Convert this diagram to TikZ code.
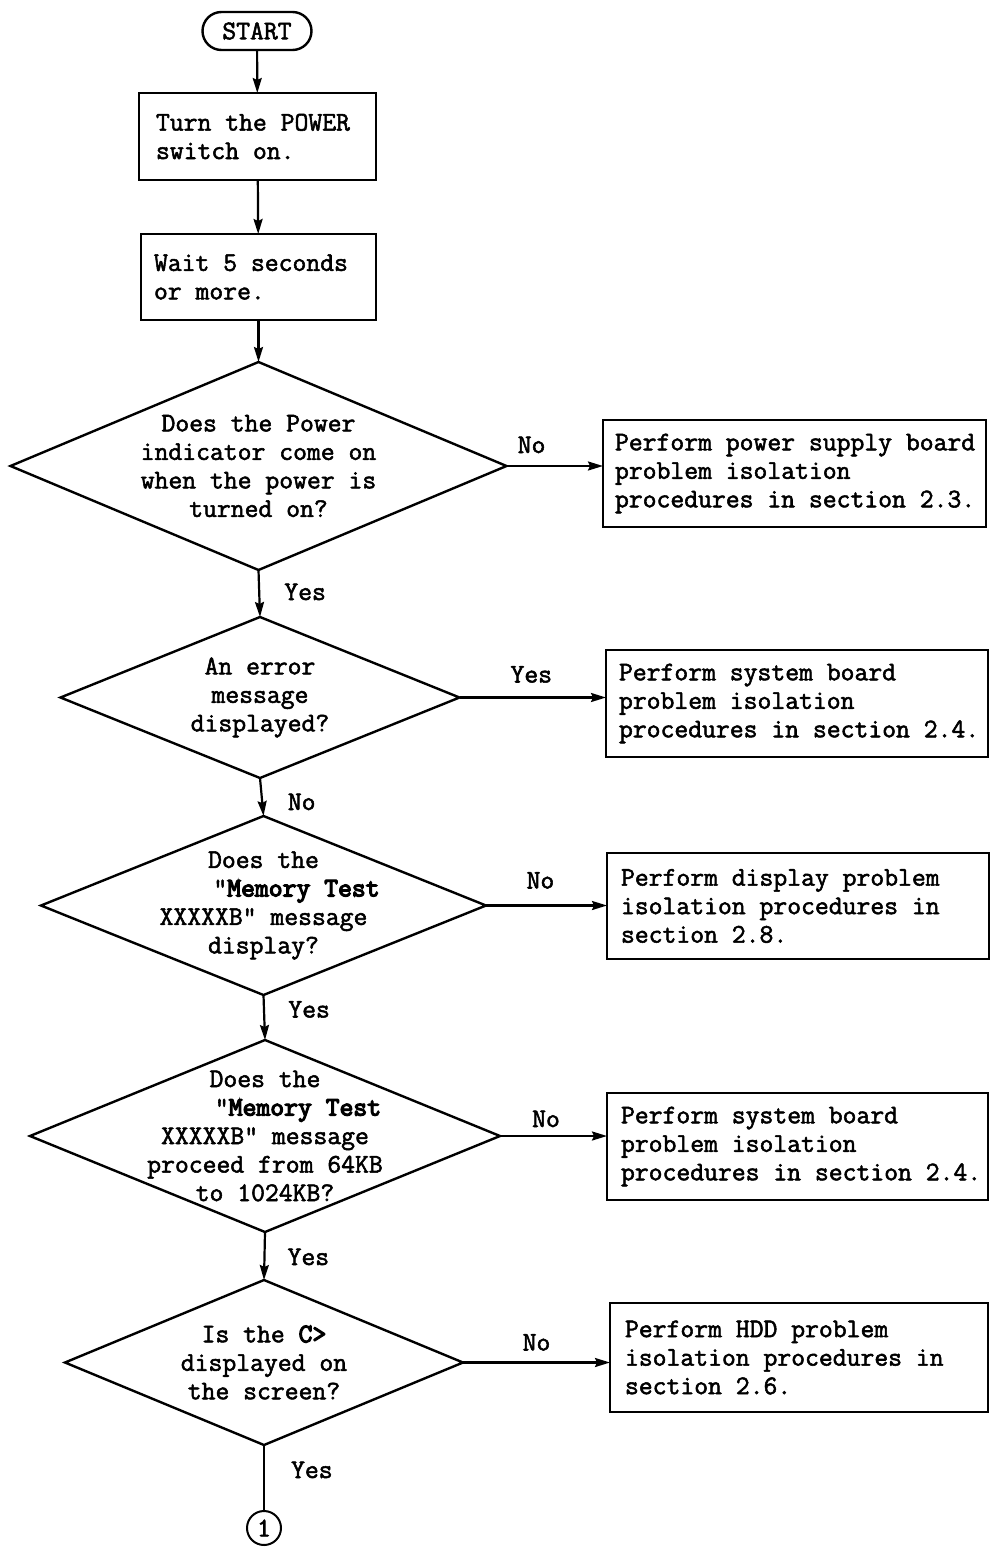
\documentclass[tikz,border=0pt]{standalone}
\usepackage{fontspec}
\setmainfont{Latin Modern Mono}[Ligatures=TeXOff, FakeBold=2]
\newfontfamily\heavymono{Latin Modern Mono}[Ligatures=TeXOff, FakeBold=4.5]
\newcommand\hv[1]{{\heavymono #1}}
\usetikzlibrary{arrows.meta,shapes.geometric}
\newcommand\fixsp{\spaceskip=0pt\xspaceskip=0pt\relax}
\begin{document}
\begin{tikzpicture}[x=1pt,y=-1pt,
  every node/.style={font=\fontsize{26.9}{28.5}\selectfont},
  pbox/.style={draw, line width=2.4pt, align=left, inner sep=0pt, outer sep=0pt},
  dec/.style={draw, shape=diamond, inner sep=0pt, outer sep=0pt, line width=2.4pt},
  conn/.style={line width=2.2pt, -{Stealth[length=15pt,width=9pt,inset=2pt]}},
  plainconn/.style={line width=2.2pt},
  hlab/.style={inner sep=0pt, anchor=base},
  vlab/.style={inner sep=0pt, anchor=base west}]
\useasboundingbox (0,0) rectangle (992,1549);

% start
\node[draw, line width=2.4pt, rounded corners=19pt, minimum width=109pt, minimum height=38pt, inner sep=0pt, outer sep=0pt] (start) at (257,31) {START};

% process boxes
\node[pbox, minimum width=237pt, minimum height=87pt, text width=203pt] (b1) at (257.5,136.5) {\fixsp Turn the POWER\\switch on.};
\node[pbox, minimum width=235pt, minimum height=86pt, text width=209pt] (b2) at (258.5,277) {\fixsp Wait 5 seconds\\or more.};

% decisions
\node[dec, minimum width=496pt, minimum height=208pt, label={[align=center, inner sep=0pt]center:{Does the Power\\indicator come on\\when the power is\\turned on?}}] (d1) at (258.5,466) {};
\node[dec, minimum width=399pt, minimum height=161pt, label={[align=center, inner sep=0pt]center:{An error\\message\\displayed?}}] (d2) at (260,697.5) {};
\node[dec, minimum width=445pt, minimum height=179pt, label={[align=center, inner sep=0pt]center:{Does the\\\hspace*{66pt}"\hv{Memory Test}\\XXXXXB" message\\display?}}] (d3) at (263.5,905.5) {};
\node[dec, minimum width=470pt, minimum height=192pt, label={[align=center, inner sep=0pt]center:{Does the\\\hspace*{66pt}"\hv{Memory Test}\\XXXXXB" message\\proceed from 64KB\\to 1024KB?}}] (d4) at (265,1136) {};
\node[dec, minimum width=398pt, minimum height=165pt, label={[align=center, inner sep=0pt]center:{Is the \hv{C>}\\displayed on\\the screen?}}] (d5) at (264,1362.5) {};

% right-hand boxes
\node[pbox, minimum width=383pt, minimum height=107pt, text width=359pt] (b3) at (794.5,473.5) {\fixsp\mbox{Perform power supply board}\\problem isolation\\\mbox{procedures in section 2.3.}};
\node[pbox, minimum width=382pt, minimum height=107pt, text width=356pt] (b4) at (797,703.5) {\fixsp Perform system board\\problem isolation\\\mbox{procedures in section 2.4.}};
\node[pbox, minimum width=382pt, minimum height=106pt, text width=354pt] (b5) at (798,906) {\fixsp Perform display problem\\isolation procedures in\\section 2.8.};
\node[pbox, minimum width=381pt, minimum height=107pt, text width=353pt] (b6) at (797.5,1146.5) {\fixsp Perform system board\\problem isolation\\\mbox{procedures in section 2.4.}};
\node[pbox, minimum width=378pt, minimum height=109pt, text width=348pt] (b7) at (799,1357.5) {\fixsp Perform HDD problem\\isolation procedures in\\section 2.6.};

% connector circle
\node[draw, circle, line width=2pt, minimum size=34pt, inner sep=0pt, outer sep=0pt] (c1) at (264,1528) {1};

% vertical flow
\draw[conn] (start) -- (b1);
\draw[conn] (b1) -- (b2);
\draw[conn] (b2) -- (d1.north);
\draw[conn] (d1.south) -- node[vlab, xshift=24pt, yshift=-6.5pt] {Yes} (d2.north);
\draw[conn] (d2.south) -- node[vlab, xshift=25pt, yshift=-13pt] {No} (d3.north);
\draw[conn] (d3.south) -- node[vlab, xshift=23pt, yshift=0pt] {Yes} (d4.north);
\draw[conn] (d4.south) -- node[vlab, xshift=22pt, yshift=-9pt] {Yes} (d5.north);
\draw[plainconn] (d5.south) -- node[vlab, xshift=26pt, yshift=0pt] {Yes} (c1.north);

% horizontal flow
\draw[conn] (d1.east) -- node[hlab, pos=0.26, yshift=13pt] {No} (d1.east -| b3.west);
\draw[conn] (d2.east) -- node[hlab, pos=0.49, yshift=15pt] {Yes} (d2.east -| b4.west);
\draw[conn] (d3.east) -- node[hlab, pos=0.45, yshift=17pt] {No} (d3.east -| b5.west);
\draw[conn] (d4.east) -- node[hlab, pos=0.43, yshift=9pt] {No} (d4.east -| b6.west);
\draw[conn] (d5.east) -- node[hlab, pos=0.50, yshift=12pt] {No} (d5.east -| b7.west);
\end{tikzpicture}
\end{document}
